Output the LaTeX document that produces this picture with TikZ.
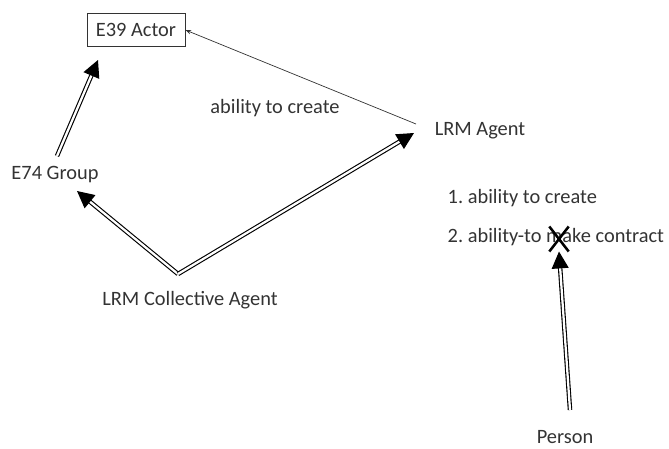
\documentclass[tikz,border=0pt]{standalone}
\usepackage{fontspec}
\setmainfont{Carlito}
\usetikzlibrary{arrows.meta, positioning, shapes.misc}

\begin{document}
\frenchspacing
\begin{tikzpicture}[
  x=0.025cm, y=-0.025cm,
  lbl/.style={font=\fontsize{14.5}{16}\selectfont, text=black!80, inner sep=1pt},
  cls/.style={lbl, draw=black!80, minimum width=2.45cm, minimum height=0.83cm,
    line width=0.6pt},
  isa/.style={double=white, double distance=1.6pt, line width=0.8pt,
    -{Triangle[length=12pt, width=12pt]}},
  rel/.style={-{Stealth[length=4pt]}, line width=0.5pt, black!80}
]
  \useasboundingbox (0,0) rectangle (669,448);

  % Classes
  \node[cls] (actor) at (136, 30) {E39 Actor};
  \node[lbl] (group) at (55, 175) {E74 Group};
  \node[lbl] (agent) at (480, 131) {LRM Agent};
  \node[lbl] (coll) at (190, 300) {LRM Collective Agent};
  \node[lbl] (person) at (565, 437) {Person};

  % Notes
  \node[lbl] (create) at (275, 108) {ability to create};
  \node[lbl, anchor=west] (note1) at (446, 198) {1. ability to create};
  \node[lbl, anchor=west] (note2) at (446, 237) {2. ability-to make contract};
  \node[cross out, draw=black, line width=1.8pt, minimum width=12pt,
    minimum height=16pt, inner sep=0pt] (nox) at (559, 239) {};

  % Free ends
  \coordinate (fork) at (178, 274);
  \coordinate (gtop) at (57, 156);
  \coordinate (atip) at (98, 60);
  \coordinate (gtip) at (77, 191);
  \coordinate (agtip) at (414, 133);
  \coordinate (ptop) at (570, 410);
  \coordinate (atail) at (416, 124);

  % Links
  \draw[isa] (gtop) -- (atip);
  \draw[isa] (fork) -- (gtip);
  \draw[isa] (fork) -- (agtip);
  \draw[isa] (ptop) -- (nox.south);
  \draw[rel] (atail) -- (actor.east);
\end{tikzpicture}
\end{document}
